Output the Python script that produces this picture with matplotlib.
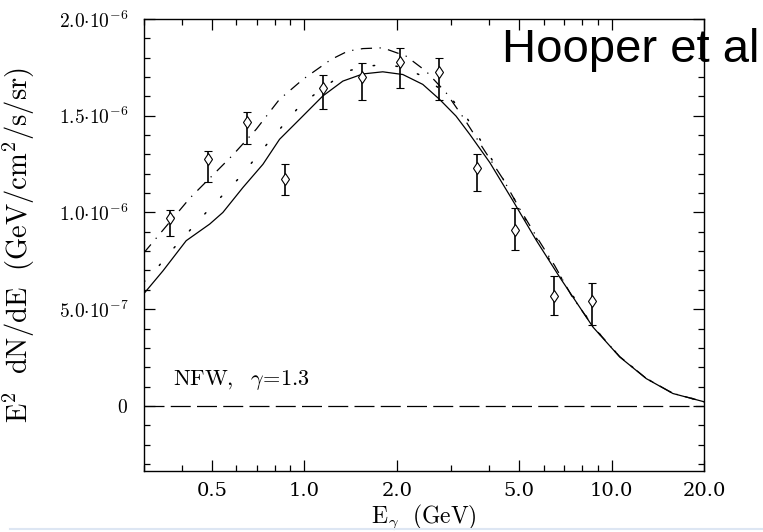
import matplotlib
matplotlib.use("Agg")
import matplotlib.pyplot as plt
import numpy as np
from matplotlib.lines import Line2D
from matplotlib.ticker import FixedLocator, FixedFormatter, NullFormatter

plt.rcParams["mathtext.fontset"] = "cm"
plt.rcParams["font.family"] = ["DejaVu Serif"]

# Data points (E in GeV, E^2 dN/dE in 1e-6 GeV/cm^2/s/sr)
data_e = [0.365, 0.487, 0.649, 0.864, 1.151, 1.534, 2.054, 2.742, 3.655, 4.858, 6.487, 8.65]
data_v = [0.971, 1.278, 1.468, 1.175, 1.644, 1.699, 1.777, 1.724, 1.230, 0.911, 0.567, 0.543]
data_hi = [1.012, 1.318, 1.521, 1.249, 1.713, 1.770, 1.849, 1.799, 1.304, 1.023, 0.672, 0.636]
data_lo = [0.876, 1.158, 1.353, 1.090, 1.533, 1.579, 1.641, 1.581, 1.112, 0.806, 0.471, 0.416]

# Model curves
solid_e = [0.3, 0.347, 0.4125, 0.492, 0.543, 0.631, 0.733, 0.830, 0.964, 1.148, 1.334,
           1.550, 1.799, 2.090, 2.427, 2.751, 3.114, 3.45, 4.01, 4.77, 5.69, 6.77,
           8.69, 10.61, 12.95, 15.81, 20.0]
solid_v = [0.579, 0.699, 0.854, 0.940, 1.000, 1.129, 1.249, 1.378, 1.481, 1.602, 1.679,
           1.716, 1.727, 1.713, 1.662, 1.585, 1.498, 1.404, 1.258, 1.060, 0.854, 0.665,
           0.407, 0.253, 0.141, 0.064, 0.021]

dotted_e = [0.3, 0.319, 0.356, 0.378, 0.479, 0.615, 0.770, 0.976, 1.237, 1.405, 1.608,
            1.822, 2.043, 2.427, 2.964, 3.40, 3.67, 4.16, 4.72, 5.34, 6.05, 6.94, 7.96,
            8.69, 10.61, 12.95, 15.81, 20.0]
dotted_v = [0.64, 0.679, 0.772, 0.820, 1.000, 1.180, 1.369, 1.559, 1.679, 1.734, 1.756,
            1.765, 1.753, 1.705, 1.602, 1.481, 1.395, 1.249, 1.095, 0.940, 0.794, 0.648,
            0.502, 0.41, 0.255, 0.142, 0.065, 0.021]

dashdot_e = [0.3, 0.424, 0.585, 0.697, 0.830, 0.906, 0.989, 1.222, 1.385, 1.550, 1.799,
             2.142, 2.488, 2.890, 3.32, 3.86, 4.43, 5.02, 5.75, 6.52, 7.39, 8.69, 10.61,
             12.95, 15.81, 20.0]
dashdot_v = [0.79, 1.074, 1.297, 1.430, 1.585, 1.636, 1.688, 1.791, 1.834, 1.847, 1.851,
             1.808, 1.730, 1.619, 1.481, 1.318, 1.172, 1.018, 0.863, 0.725, 0.571, 0.41,
             0.255, 0.142, 0.065, 0.021]

x_major = [0.5, 1.0, 2.0, 5.0, 10.0, 20.0]
x_labels = ["0.5", "1.0", "2.0", "5.0", "10.0", "20.0"]
x_minor = [0.3, 0.4, 0.6, 0.7, 0.8, 0.9, 3, 4, 6, 7, 8, 9]
y_major = [0.0, 0.5e-6, 1.0e-6, 1.5e-6, 2.0e-6]
y_labels = [r"$0$", r"$5.0{\cdot}10^{-7}$", r"$1.0{\cdot}10^{-6}$",
            r"$1.5{\cdot}10^{-6}$", r"$2.0{\cdot}10^{-6}$"]

fig = plt.figure(figsize=(7.63, 5.32), dpi=100)
ax = fig.add_axes([0.1883, 0.1152, 0.7348, 0.8491])

s = 1e-6
ax.plot(solid_e, np.array(solid_v) * s, color="black", lw=0.9)
ax.plot(dotted_e, np.array(dotted_v) * s, color="black", lw=1.1,
        linestyle=(0, (1, 14)), dash_capstyle="round")
ax.plot(dashdot_e, np.array(dashdot_v) * s, color="black", lw=0.9,
        linestyle=(0, (9, 6, 1, 6)))
ax.axhline(0, color="black", lw=0.9, linestyle=(0, (16, 5)))

v = np.array(data_v) * s
yerr = [v - np.array(data_lo) * s, np.array(data_hi) * s - v]
ax.errorbar(data_e, v, yerr=yerr, fmt="d", mfc="white", mec="black", ms=6.5,
            mew=0.8, ecolor="black", elinewidth=1.2, capsize=2.8, capthick=1.2)

ax.set_xscale("log")
ax.set_xlim(0.3, 20.0)
ax.set_ylim(-0.335e-6, 2.0e-6)

ax.xaxis.set_major_locator(FixedLocator(x_major))
ax.xaxis.set_major_formatter(FixedFormatter(x_labels))
ax.xaxis.set_minor_locator(FixedLocator(x_minor))
ax.xaxis.set_minor_formatter(NullFormatter())

ax.yaxis.set_major_locator(FixedLocator(y_major))
ax.yaxis.set_major_formatter(FixedFormatter(y_labels))
ax.yaxis.set_minor_locator(FixedLocator(np.arange(-3, 20) * 1e-7))

ax.tick_params(which="both", direction="in", top=True, right=True, width=0.9)
ax.tick_params(which="major", length=8, labelsize=14)
ax.tick_params(axis="x", which="major", pad=8)
ax.tick_params(axis="y", which="major", pad=11)
ax.tick_params(which="minor", length=4)
for sp in ax.spines.values():
    sp.set_linewidth(1.0)

ax.set_xlabel(r"$\mathrm{E_\gamma\ \ (GeV)}$", fontsize=17, labelpad=2)
ax.set_ylabel(r"$\mathrm{E^2\ \ dN/dE\ \ (GeV/cm^2/s/sr)}$", fontsize=20.5)
ax.yaxis.set_label_coords(-0.19, 0.5)

ax.text(0.373, 0.107e-6, r"$\mathrm{NFW,\ \ \gamma\!=\!1.3}$", fontsize=16,
        ha="left", va="baseline")

fig.text(502 / 763, 1 - 62 / 532, "Hooper et al", fontsize=34,
         family="Liberation Sans", ha="left", va="baseline")

fig.add_artist(Line2D([10 / 763, 1.0], [3 / 532, 3 / 532], color="#dde6f3", lw=1.5))

fig.savefig("out.png", dpi=100)
